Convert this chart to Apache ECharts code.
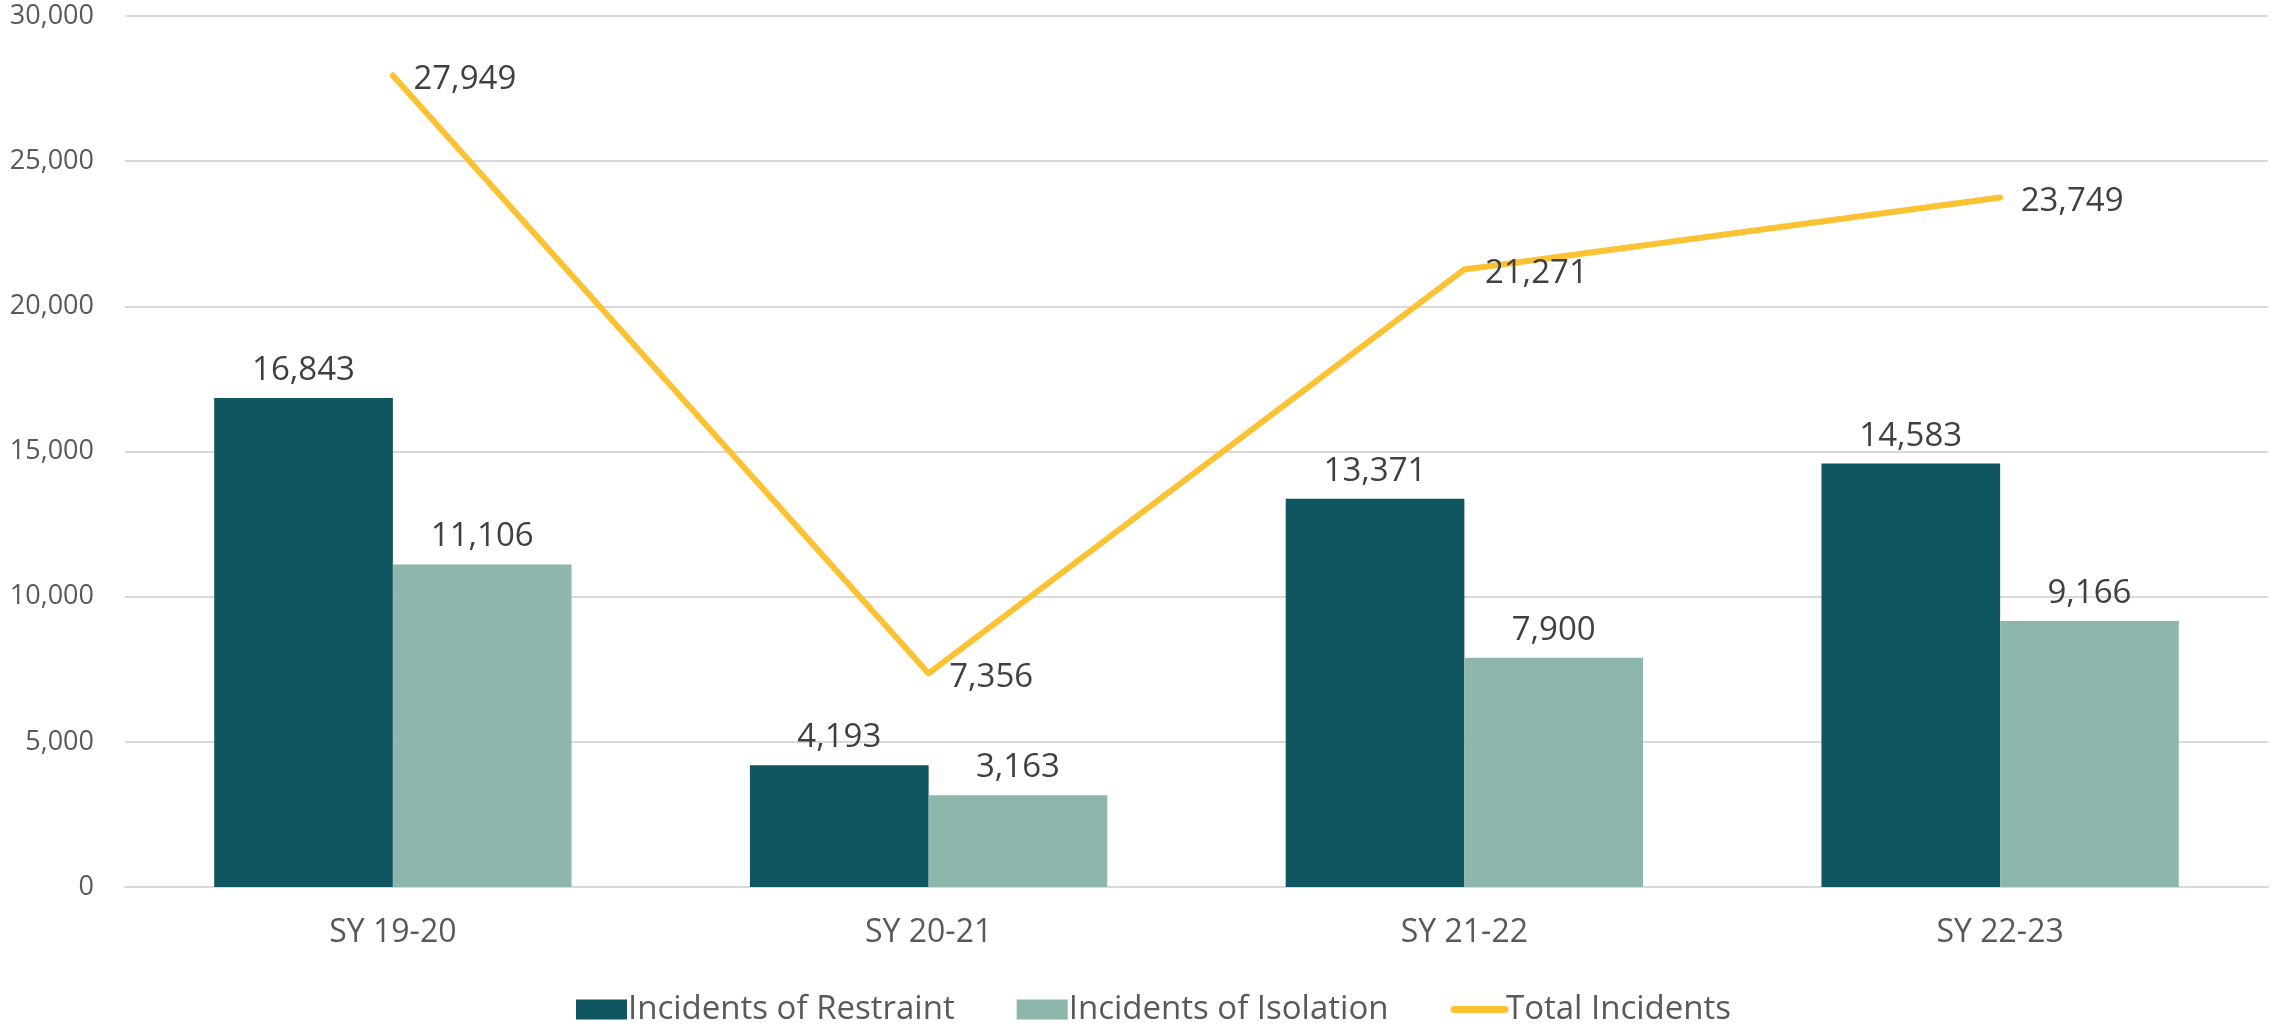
<!DOCTYPE html>
<html>
<head>
<meta charset="utf-8">
<script src="https://cdn.jsdelivr.net/npm/echarts@6/dist/echarts.min.js"></script>
<style>
html,body{margin:0;padding:0;background:#fff;}
#chart{width:2272px;height:1028px;}
</style>
</head>
<body>
<div id="chart"></div>
<script>
const categories = ['SY 19-20', 'SY 20-21', 'SY 21-22', 'SY 22-23'];
const restraint = [16843, 4193, 13371, 14583];
const isolation = [11106, 3163, 7900, 9166];
const total = [27949, 7356, 21271, 23749];
const seriesNames = ['Incidents of Restraint', 'Incidents of Isolation', 'Total Incidents'];

const FONT = '"Open Sans", "Noto Sans", sans-serif';
const fmt = v => v.toLocaleString('en-US');
const LINE_COLOR = '#FBC234';

const chart = echarts.init(document.getElementById('chart'), null, {renderer: 'canvas'});
chart.setOption({
  animation: false,
  backgroundColor: '#ffffff',
  grid: {left: 125, right: 4, top: 16, bottom: 141, containLabel: false},
  legend: {
    left: 571, top: 988,
    itemWidth: 51, itemHeight: 20, itemGap: 62,
    textStyle: {fontFamily: FONT, fontSize: 33, color: '#595959', padding: [0, 0, 0, -4]},
    data: [
      {name: seriesNames[0], icon: 'rect'},
      {name: seriesNames[1], icon: 'rect'},
      {name: seriesNames[2], itemStyle: {opacity: 0}, lineStyle: {width: 7, color: LINE_COLOR, cap: 'round'}}
    ]
  },
  xAxis: {
    type: 'category',
    data: categories,
    axisTick: {show: false},
    axisLine: {show: true, lineStyle: {color: '#D9D9D9', width: 2}},
    axisLabel: {fontFamily: FONT, fontSize: 32, color: '#595959', margin: 30}
  },
  yAxis: {
    type: 'value',
    min: 0, max: 30000, interval: 5000,
    axisLine: {show: false},
    axisTick: {show: false},
    splitLine: {lineStyle: {color: '#D9D9D9', width: 2}},
    axisLabel: {fontFamily: FONT, fontSize: 27, color: '#595959', margin: 31, formatter: v => fmt(v)}
  },
  series: [
    {
      name: seriesNames[0], type: 'bar', data: restraint,
      barGap: '0%', barCategoryGap: '33.3%',
      itemStyle: {color: '#0F5660'},
      label: {show: true, position: 'top', distance: 11, fontFamily: FONT, fontSize: 33, color: '#404040', formatter: p => fmt(p.value)}
    },
    {
      name: seriesNames[1], type: 'bar', data: isolation,
      barGap: '0%', barCategoryGap: '33.3%',
      itemStyle: {color: '#8DB6AC'},
      label: {show: true, position: 'top', distance: 11, fontFamily: FONT, fontSize: 33, color: '#404040', formatter: p => fmt(p.value)}
    },
    {
      name: seriesNames[2], type: 'line', data: total,
      symbol: 'circle', symbolSize: 1, showSymbol: true,
      lineStyle: {color: LINE_COLOR, width: 6, cap: 'round', join: 'round'},
      itemStyle: {color: 'rgba(0,0,0,0)', borderWidth: 0},
      label: {show: true, position: 'right', distance: 20, offset: [0, 4], fontFamily: FONT, fontSize: 33, color: '#404040', formatter: p => fmt(p.value)}
    }
  ]
});
</script>
</body>
</html>
